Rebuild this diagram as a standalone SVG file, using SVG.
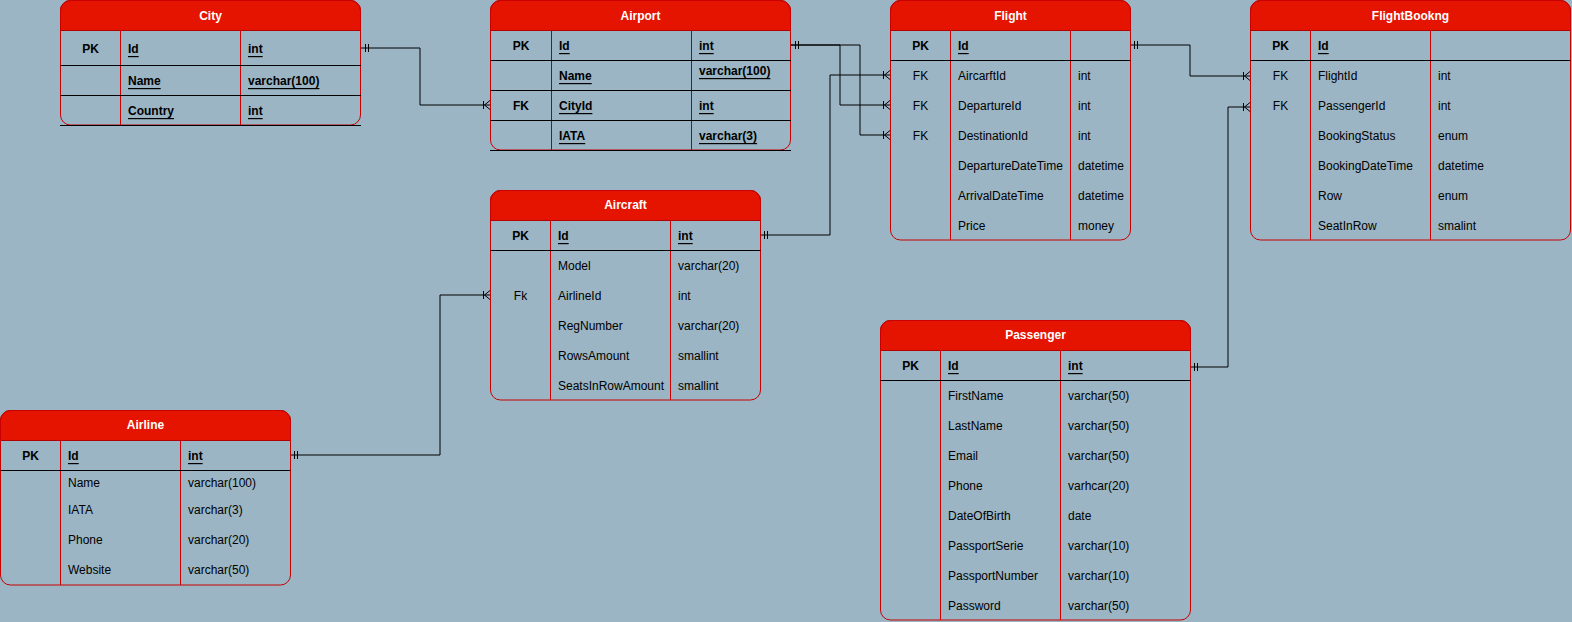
<svg xmlns="http://www.w3.org/2000/svg" width="1572" height="622" viewBox="0 0 1572 622">
<style>
text{font-family:"Liberation Sans",Arial,Helvetica,sans-serif;font-size:12px;fill:#000;dominant-baseline:central;transform:translate(0px,1px)}
.title{font-weight:bold;fill:#fff;text-anchor:middle}
.pk{font-weight:bold;text-anchor:middle}
.k{text-anchor:middle}
.u{text-decoration:underline}
.b{font-weight:bold}
.hdr{fill:#e51400;stroke:#b20000;stroke-width:1}
.box{fill:none;stroke:#c80000;stroke-width:1}
.row{stroke:#000;stroke-width:1;fill:none}
.col{stroke:#d00000;stroke-width:1}
.col2{stroke:#a80000;stroke-width:1}
.conn{fill:none;stroke:#000;stroke-width:1}
</style>
<defs>
<marker id="one" markerUnits="userSpaceOnUse" markerWidth="20" markerHeight="20" viewBox="-10 -10 20 20" refX="0" refY="0" orient="auto-start-reverse" overflow="visible">
<path d="M-4.5,-4V4M-7.5,-4V4" stroke="#000" stroke-width="1" fill="none"/>
</marker>
<marker id="many" markerUnits="userSpaceOnUse" markerWidth="20" markerHeight="20" viewBox="-10 -10 20 20" refX="0" refY="0" orient="auto" overflow="visible">
<path d="M-6.5,-4V4M-5.5,0L0,-4.5M-5.5,0L0,4.5" stroke="#000" stroke-width="1" fill="none"/>
</marker>
</defs>
<rect x="0" y="0" width="1572" height="622" fill="#9bb5c4"/>

<g id="connectors">
<path class="conn" d="M361,48H420V105H490" marker-start="url(#one)" marker-end="url(#many)"/>
<path class="conn" d="M791,45H840V105H890" marker-start="url(#one)" marker-end="url(#many)"/>
<path class="conn" d="M791,45H860V135H890" marker-start="url(#one)" marker-end="url(#many)"/>
<path class="conn" d="M760,235H830V75H890" marker-start="url(#one)" marker-end="url(#many)"/>
<path class="conn" d="M1130,45H1190V76H1250" marker-start="url(#one)" marker-end="url(#many)"/>
<path class="conn" d="M1190,367H1228V107H1250" marker-start="url(#one)" marker-end="url(#many)"/>
<path class="conn" d="M290,455H440V295H490" marker-start="url(#one)" marker-end="url(#many)"/>
</g>

<g id="city">
<path class="hdr" d="M60.5,30.5V10.5A10,10 0 0 1 70.5,0.5H350.5A10,10 0 0 1 360.5,10.5V30.5Z"/>
<rect class="box" x="60.5" y="0.5" width="300" height="124.5" rx="10"/>
<line class="col" x1="120.5" y1="30.5" x2="120.5" y2="125"/>
<line class="col" x1="240.5" y1="30.5" x2="240.5" y2="125"/>
<path class="row" d="M60.5,65.5H361M60.5,95.5H361M60,125.5H361"/>
<text class="title" x="210.5" y="15">City</text>
<text class="pk" x="90.5" y="48">PK</text>
<text class="b u" x="128" y="48">Id</text>
<text class="b u" x="248" y="48">int</text>
<text class="b u" x="128" y="80">Name</text>
<text class="b u" x="248" y="80">varchar(100)</text>
<text class="b u" x="128" y="110">Country</text>
<text class="b u" x="248" y="110">int</text>
</g>

<g id="airport">
<path class="hdr" d="M490.5,30.5V10.5A10,10 0 0 1 500.5,0.5H780.5A10,10 0 0 1 790.5,10.5V30.5Z"/>
<rect class="box" x="490.5" y="0.5" width="300" height="149.5" rx="10"/>
<line class="col2" x1="551.5" y1="30.5" x2="551.5" y2="150"/>
<line class="col2" x1="691.5" y1="30.5" x2="691.5" y2="150"/>
<path class="row" d="M490.5,60.5H791M490.5,90.5H791M490.5,120.5H791M490,150.5H791"/>
<text class="title" x="640.5" y="15">Airport</text>
<text class="pk" x="521" y="45">PK</text>
<text class="b u" x="559" y="45">Id</text>
<text class="b u" x="699" y="45">int</text>
<text class="b u" x="559" y="75">Name</text>
<text class="b u" x="699" y="70">varchar(100)</text>
<text class="pk" x="521" y="105">FK</text>
<text class="b u" x="559" y="105">CityId</text>
<text class="b u" x="699" y="105">int</text>
<text class="b u" x="559" y="135">IATA</text>
<text class="b u" x="699" y="135">varchar(3)</text>
</g>

<g id="flight">
<path class="hdr" d="M890.5,30.5V10.5A10,10 0 0 1 900.5,0.5H1120.5A10,10 0 0 1 1130.5,10.5V30.5Z"/>
<rect class="box" x="890.5" y="0.5" width="240" height="239.5" rx="10"/>
<line class="col" x1="950.5" y1="30.5" x2="950.5" y2="240"/>
<line class="col" x1="1070.5" y1="30.5" x2="1070.5" y2="240"/>
<path class="row" d="M890.5,60.5H1130.5"/>
<text class="title" x="1010.5" y="15">Flight</text>
<text class="pk" x="920.5" y="45">PK</text>
<text class="b u" x="958" y="45">Id</text>
<text class="k" x="920.5" y="75">FK</text>
<text x="958" y="75">AircarftId</text>
<text x="1078" y="75">int</text>
<text class="k" x="920.5" y="105">FK</text>
<text x="958" y="105">DepartureId</text>
<text x="1078" y="105">int</text>
<text class="k" x="920.5" y="135">FK</text>
<text x="958" y="135">DestinationId</text>
<text x="1078" y="135">int</text>
<text x="958" y="165">DepartureDateTime</text>
<text x="1078" y="165">datetime</text>
<text x="958" y="195">ArrivalDateTime</text>
<text x="1078" y="195">datetime</text>
<text x="958" y="225">Price</text>
<text x="1078" y="225">money</text>
</g>

<g id="flightbookng">
<path class="hdr" d="M1250.5,30.5V10.5A10,10 0 0 1 1260.5,0.5H1560.5A10,10 0 0 1 1570.5,10.5V30.5Z"/>
<rect class="box" x="1250.5" y="0.5" width="320" height="239.5" rx="10"/>
<line class="col" x1="1310.5" y1="30.5" x2="1310.5" y2="240"/>
<line class="col" x1="1430.5" y1="30.5" x2="1430.5" y2="240"/>
<path class="row" d="M1250.5,60.5H1570.5"/>
<text class="title" x="1410.5" y="15">FlightBookng</text>
<text class="pk" x="1280.5" y="45">PK</text>
<text class="b u" x="1318" y="45">Id</text>
<text class="k" x="1280.5" y="75">FK</text>
<text x="1318" y="75">FlightId</text>
<text x="1438" y="75">int</text>
<text class="k" x="1280.5" y="105">FK</text>
<text x="1318" y="105">PassengerId</text>
<text x="1438" y="105">int</text>
<text x="1318" y="135">BookingStatus</text>
<text x="1438" y="135">enum</text>
<text x="1318" y="165">BookingDateTime</text>
<text x="1438" y="165">datetime</text>
<text x="1318" y="195">Row</text>
<text x="1438" y="195">enum</text>
<text x="1318" y="225">SeatInRow</text>
<text x="1438" y="225">smalint</text>
</g>

<g id="aircraft">
<path class="hdr" d="M490.5,220.5V200.5A10,10 0 0 1 500.5,190.5H750.5A10,10 0 0 1 760.5,200.5V220.5Z"/>
<rect class="box" x="490.5" y="190.5" width="270" height="209.5" rx="10"/>
<line class="col" x1="550.5" y1="220.5" x2="550.5" y2="400"/>
<line class="col" x1="670.5" y1="220.5" x2="670.5" y2="400"/>
<path class="row" d="M490.5,250.5H760.5"/>
<text class="title" x="625.5" y="204">Aircraft</text>
<text class="pk" x="520.5" y="235">PK</text>
<text class="b u" x="558" y="235">Id</text>
<text class="b u" x="678" y="235">int</text>
<text x="558" y="265">Model</text>
<text x="678" y="265">varchar(20)</text>
<text class="k" x="520.5" y="295">Fk</text>
<text x="558" y="295">AirlineId</text>
<text x="678" y="295">int</text>
<text x="558" y="325">RegNumber</text>
<text x="678" y="325">varchar(20)</text>
<text x="558" y="355">RowsAmount</text>
<text x="678" y="355">smallint</text>
<text x="558" y="385">SeatsInRowAmount</text>
<text x="678" y="385">smallint</text>
</g>

<g id="airline">
<path class="hdr" d="M0.5,440.5V420.5A10,10 0 0 1 10.5,410.5H280.5A10,10 0 0 1 290.5,420.5V440.5Z"/>
<rect class="box" x="0.5" y="410.5" width="290" height="174.5" rx="10"/>
<line class="col" x1="60.5" y1="440.5" x2="60.5" y2="585"/>
<line class="col" x1="180.5" y1="440.5" x2="180.5" y2="585"/>
<path class="row" d="M0.5,470.5H290.5"/>
<text class="title" x="145.5" y="424">Airline</text>
<text class="pk" x="30.5" y="455">PK</text>
<text class="b u" x="68" y="455">Id</text>
<text class="b u" x="188" y="455">int</text>
<text x="68" y="482">Name</text>
<text x="188" y="482">varchar(100)</text>
<text x="68" y="509">IATA</text>
<text x="188" y="509">varchar(3)</text>
<text x="68" y="539">Phone</text>
<text x="188" y="539">varchar(20)</text>
<text x="68" y="569">Website</text>
<text x="188" y="569">varchar(50)</text>
</g>

<g id="passenger">
<path class="hdr" d="M880.5,350.5V330.5A10,10 0 0 1 890.5,320.5H1180.5A10,10 0 0 1 1190.5,330.5V350.5Z"/>
<rect class="box" x="880.5" y="320.5" width="310" height="299.5" rx="10"/>
<line class="col" x1="940.5" y1="350.5" x2="940.5" y2="620"/>
<line class="col" x1="1060.5" y1="350.5" x2="1060.5" y2="620"/>
<path class="row" d="M880.5,380.5H1190.5"/>
<text class="title" x="1035.5" y="334">Passenger</text>
<text class="pk" x="910.5" y="365">PK</text>
<text class="b u" x="948" y="365">Id</text>
<text class="b u" x="1068" y="365">int</text>
<text x="948" y="395">FirstName</text>
<text x="1068" y="395">varchar(50)</text>
<text x="948" y="425">LastName</text>
<text x="1068" y="425">varchar(50)</text>
<text x="948" y="455">Email</text>
<text x="1068" y="455">varchar(50)</text>
<text x="948" y="485">Phone</text>
<text x="1068" y="485">varhcar(20)</text>
<text x="948" y="515">DateOfBirth</text>
<text x="1068" y="515">date</text>
<text x="948" y="545">PassportSerie</text>
<text x="1068" y="545">varchar(10)</text>
<text x="948" y="575">PassportNumber</text>
<text x="1068" y="575">varchar(10)</text>
<text x="948" y="605">Password</text>
<text x="1068" y="605">varchar(50)</text>
</g>
</svg>
